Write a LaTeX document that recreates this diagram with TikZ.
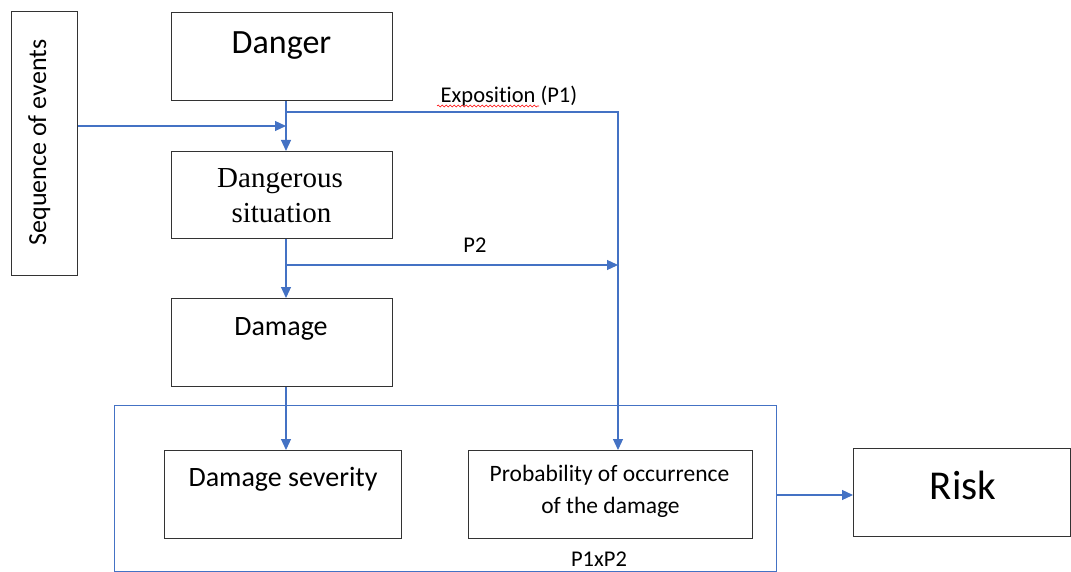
\documentclass[tikz,border=0pt]{standalone}
\usepackage{fontspec}
\setmainfont{Carlito}[Ligatures={NoCommon,NoDiscretionary}]
\newfontfamily\serifont{Liberation Serif}
\usetikzlibrary{arrows.meta,decorations.pathmorphing}
\definecolor{blueline}{HTML}{4472C4}
\definecolor{boxline}{HTML}{333333}
\begin{document}
\begin{tikzpicture}[x=1pt,y=-1pt,
  box/.style={draw=boxline,line width=1pt,anchor=north west,inner sep=0pt,fill=white},
  txt/.style={inner sep=0pt,anchor=base},
  link/.style={draw=blueline,line width=1.2pt},
  arr/.style={draw=blueline,line width=1.2pt,-{Triangle[length=11pt,width=10pt,fill=blueline]}},
  fs/.style={font=\fontsize{#1}{#1}\selectfont}
]
\useasboundingbox (0,0) rectangle (1071,572);

% boxes
\node[box,minimum width=66pt,minimum height=264pt] (seq) at (11,11) {};
\node[box,minimum width=221pt,minimum height=88pt] (danger) at (171,12) {};
\node[box,minimum width=221pt,minimum height=87pt] (sit) at (171,151) {};
\node[box,minimum width=221pt,minimum height=88pt] (dmg) at (171,298) {};
\node[draw=blueline,line width=1pt,anchor=north west,inner sep=0pt,minimum width=662pt,minimum height=166pt] (big) at (114,405) {};
\node[box,minimum width=237pt,minimum height=88pt] (sev) at (164,450) {};
\node[box,minimum width=284pt,minimum height=88pt] (prob) at (468,450) {};
\node[box,minimum width=217pt,minimum height=88pt] (risk) at (853,448) {};

% texts
\node[txt,fs=34] (tdanger) at (281.5,54) {Danger};
\node[txt,fs=26,rotate=90] (tseq) at (46,142.5) {Sequence of events};
\node[txt,font=\serifont\fontsize{29}{29}\selectfont] (tsit1) at (280,188) {Dangerous};
\node[txt,font=\serifont\fontsize{29}{29}\selectfont] (tsit2) at (281.5,222.5) {situation};
\node[txt,fs=28] (tdmg) at (281,335.5) {Damage};
\node[txt,fs=28] (tsev) at (283,486.5) {Damage severity};
\node[txt,fs=23.5] (tprob1) at (609.5,481.5) {Probability of occurrence};
\node[txt,fs=23.5] (tprob2) at (610.5,513.5) {of the damage};
\node[txt,fs=41] (trisk) at (963,499) {Risk};
\node[txt,fs=22.5] (texpo) at (509,102.5) {Exposition (P1)};
\node[txt,fs=22.5] (tp2) at (475,252.5) {P2};
\node[txt,fs=22.5] (tp1p2) at (599,566.5) {P1xP2};

% red wavy underline (spell check mark)
\draw[red,line width=0.6pt,decoration={snake,amplitude=0.9pt,segment length=4pt},decorate]
  (437,106) -- (539,106);

% connector coordinates
\coordinate (ax) at (286,0);
\coordinate (j1) at (286,126);
\coordinate (e0) at (286,112);
\coordinate (e1) at (618,112);
\coordinate (p0) at (286,265);
\coordinate (p1) at (618,265);
\coordinate (rk) at (853,495);

% connectors
\draw[arr] (danger.south -| ax) -- (sit.north -| ax);
\draw[arr] (seq.east |- j1) -- (j1);
\draw[arr] (e0) -- (e1) -- (prob.north -| e1);
\draw[arr] (p0) -- (p1);
\draw[arr] (sit.south -| ax) -- (dmg.north -| ax);
\draw[arr] (dmg.south -| ax) -- (sev.north -| ax);
\draw[arr] (big.east |- rk) -- (risk.west |- rk);
\end{tikzpicture}
\end{document}
